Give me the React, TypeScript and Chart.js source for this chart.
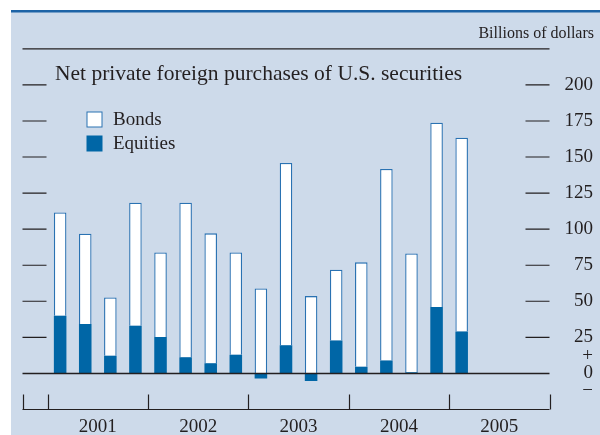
import React, { useEffect, useRef } from 'react';
import { Chart, registerables } from 'chart.js';

Chart.register(...registerables);

// ---- data ----
const quarters = [
  '2001 Q1', '2001 Q2', '2001 Q3', '2001 Q4',
  '2002 Q1', '2002 Q2', '2002 Q3', '2002 Q4',
  '2003 Q1', '2003 Q2', '2003 Q3', '2003 Q4',
  '2004 Q1', '2004 Q2', '2004 Q3', '2004 Q4',
  '2005 Q1',
];
const bonds = [71.6, 62.6, 40.5, 85.3, 58.7, 107.0, 90.0, 71.0, 58.9, 126.2, 53.6, 49.0, 72.4, 132.7, 82.3, 127.8, 134.3];
const equities = [40.0, 34.2, 12.2, 33.0, 25.2, 11.3, 7.1, 12.9, -3.5, 19.6, -5.3, 22.9, 4.6, 9.0, 0.9, 46.0, 29.1];
const years = ['2001', '2002', '2003', '2004', '2005'];
const yTickValues = [25, 50, 75, 100, 125, 150, 175, 200];

const leadingSlots = 1;
const trailingSlots = 3;
const quartersPerYear = 4;

const SERIF = '"Liberation Serif", "Times New Roman", serif';
const INK = '#231f20';
const BLUE = '#0066a6';
const OUTLINE = '#2a72b2';

const pad = (arr: (number | null)[]) => [
  ...Array(leadingSlots).fill(null),
  ...arr,
  ...Array(trailingSlots).fill(null),
];
const labels = ['', ...quarters, '', '', ''];
const totalSlots = labels.length;

const panelPlugin = {
  id: 'panel',
  beforeDraw(chart: any) {
    const ctx = chart.ctx;
    ctx.save();
    ctx.fillStyle = '#ffffff';
    ctx.fillRect(0, 0, chart.width, chart.height);
    ctx.fillStyle = '#cddaea';
    ctx.fillRect(11, 11, chart.width - 11, chart.height - 11);
    ctx.fillStyle = '#1d63a6';
    ctx.fillRect(11, 10, chart.width - 11, 2.5);
    ctx.restore();
  },
};

const decorPlugin = {
  id: 'decor',
  afterDatasetsDraw(chart: any) {
    const ctx = chart.ctx;
    const { left, right, top, bottom } = chart.chartArea;
    const ys = chart.scales.y;
    const xs = chart.scales.xYear;
    ctx.save();
    ctx.strokeStyle = INK;
    // dashes
    ctx.lineWidth = 1.1;
    yTickValues.forEach((v) => {
      const py = ys.getPixelForValue(v);
      ctx.beginPath();
      ctx.moveTo(left, py);
      ctx.lineTo(left + 24, py);
      ctx.moveTo(right - 24, py);
      ctx.lineTo(right, py);
      ctx.stroke();
    });
    // top rule
    ctx.lineWidth = 1.2;
    ctx.beginPath();
    ctx.moveTo(left, top);
    ctx.lineTo(right, top);
    ctx.stroke();
    // zero line
    ctx.lineWidth = 1.6;
    const y0 = ys.getPixelForValue(0);
    ctx.beginPath();
    ctx.moveTo(left, y0);
    ctx.lineTo(right, y0);
    ctx.stroke();
    // bottom axis line
    ctx.lineWidth = 1.2;
    ctx.beginPath();
    ctx.moveTo(left, bottom);
    ctx.lineTo(right, bottom);
    ctx.stroke();
    // year boundary ticks
    const bounds = [0];
    for (let i = 0; i <= years.length; i++) bounds.push(leadingSlots + i * quartersPerYear);
    bounds.forEach((u) => {
      const px = Math.round(xs.getPixelForValue(u)) + 0.5;
      ctx.beginPath();
      ctx.moveTo(px, bottom);
      ctx.lineTo(px, bottom - 15);
      ctx.stroke();
    });
    // title & notes
    ctx.fillStyle = INK;
    ctx.textBaseline = 'alphabetic';
    ctx.font = `21.5px ${SERIF}`;
    ctx.textAlign = 'left';
    ctx.fillText('Net private foreign purchases of U.S. securities', 55, 80);
    ctx.font = `16px ${SERIF}`;
    ctx.textAlign = 'right';
    ctx.fillText('Billions of dollars', 594, 37.5);
    // legend
    ctx.textAlign = 'left';
    ctx.font = `19px ${SERIF}`;
    ctx.fillStyle = '#ffffff';
    ctx.fillRect(87, 112, 15, 15);
    ctx.strokeStyle = OUTLINE;
    ctx.lineWidth = 1;
    ctx.strokeRect(87, 112, 15, 15);
    ctx.fillStyle = BLUE;
    ctx.fillRect(86.5, 135.5, 16, 16);
    ctx.fillStyle = INK;
    ctx.fillText('Bonds', 113, 125);
    ctx.fillText('Equities', 113, 149);
    ctx.restore();
  },
};

export default function App() {
  const ref = useRef<HTMLCanvasElement | null>(null);
  useEffect(() => {
    if (!ref.current) return;
    const chart = new Chart(ref.current, {
      type: 'bar',
      data: {
        labels,
        datasets: [
          {
            label: 'Equities',
            data: pad(equities),
            backgroundColor: BLUE,
            borderWidth: 0,
            barPercentage: 0.5,
            categoryPercentage: 1,
          },
          {
            label: 'Bonds',
            data: pad(bonds),
            backgroundColor: '#ffffff',
            borderColor: OUTLINE,
            borderWidth: 1.3,
            borderSkipped: 'start',
            barPercentage: 0.5,
            categoryPercentage: 1,
          },
        ],
      },
      options: {
        animation: false,
        responsive: false,
        devicePixelRatio: 1,
        layout: { padding: { left: 22.5, right: 7, top: 48.8, bottom: 0 } },
        plugins: { legend: { display: false }, tooltip: { enabled: false }, title: { display: false } },
        scales: {
          x: { display: false, stacked: true },
          xYear: {
            type: 'linear',
            position: 'bottom',
            offset: false,
            min: 0,
            max: totalSlots,
            grid: { display: false, drawTicks: false, offset: false },
            border: { display: false },
            afterBuildTicks: (axis: any) => {
              axis.ticks = years.map((_, i) => ({ value: leadingSlots + i * quartersPerYear + quartersPerYear / 2 }));
            },
            afterFit: (axis: any) => {
              axis.height = 25.5;
            },
            ticks: {
              autoSkip: false,
              maxRotation: 0,
              padding: 6,
              color: INK,
              font: { family: SERIF, size: 19 },
              callback: (_v: any, i: number) => years[i],
            },
          },
          y: {
            position: 'right',
            stacked: true,
            min: -25,
            max: 225,
            grid: { display: false, drawTicks: false },
            border: { display: false },
            afterFit: (axis: any) => {
              axis.width = 43.5;
            },
            ticks: {
              stepSize: 25,
              autoSkip: false,
              padding: 14,
              crossAlign: 'far',
              color: INK,
              font: { family: SERIF, size: 19, lineHeight: 0.92 },
              callback: (v: any) => {
                if (v === 0) return ['+', '0', '\u2212'];
                return yTickValues.includes(v) ? String(v) : '';
              },
            },
          },
        },
      },
      plugins: [panelPlugin, decorPlugin],
    } as any);
    return () => chart.destroy();
  }, []);
  return (
    <div style={{ position: 'absolute', left: 0, top: 0, width: 600, height: 435 }}>
      <canvas ref={ref} width={600} height={435} style={{ display: 'block', width: 600, height: 435 }} />
    </div>
  );
}
